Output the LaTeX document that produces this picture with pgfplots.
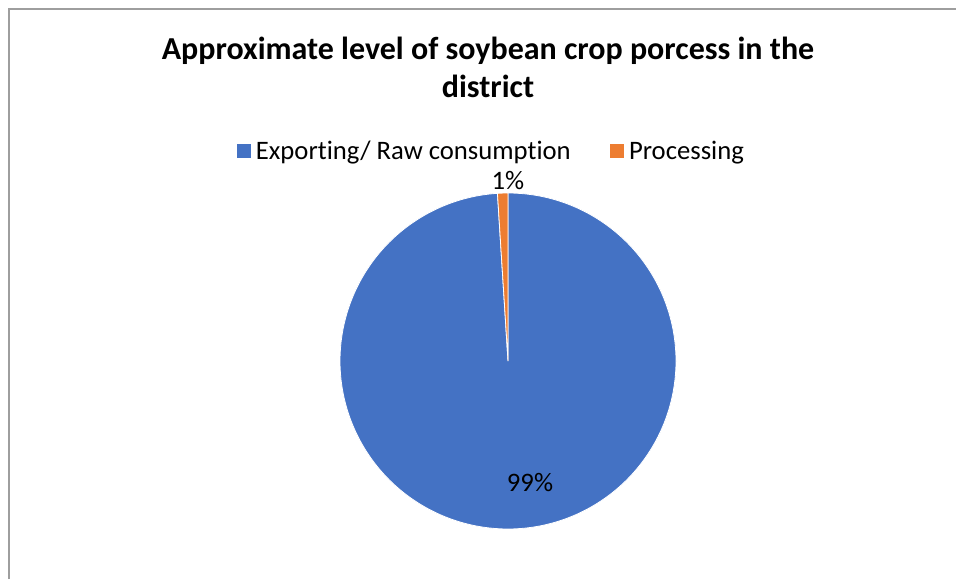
\documentclass[border=0pt]{standalone}
\usepackage{pgfplots}
\pgfplotsset{compat=1.18}
\usepackage{pgfplotstable}
\usepackage{fontspec}
\setmainfont{Carlito}[Ligatures={NoCommon}]
\definecolor{pieblue}{HTML}{4472C4}
\definecolor{pieorange}{HTML}{ED7D31}
\definecolor{framegray}{HTML}{9E9E9E}
\pgfplotstableread{
label value
Exporting 99
Processing 1
}\piedata
\pgfplotstablegetelem{0}{value}\of\piedata \let\va\pgfplotsretval
\pgfplotstablegetelem{1}{value}\of\piedata \let\vb\pgfplotsretval
\pgfmathsetmacro\aFrac{\va/(\va+\vb)}
\pgfmathsetmacro\aStart{90}
\pgfmathsetmacro\aEnd{90-360*\aFrac}
\pgfmathsetmacro\aEndb{\aEnd+360}
\begin{document}%
\begin{tikzpicture}
\fill[white] (0,0) rectangle (717pt,434.25pt);
\draw[framegray, line width=1.5pt] (6.75pt,0pt) -- (6.75pt,427.5pt) -- (717pt,427.5pt);
\node[anchor=base, font=\fontsize{24}{29}\selectfont\bfseries] at (366pt,389.25pt) {Approximate level of soybean crop porcess in the};
\node[anchor=base, font=\fontsize{24}{29}\selectfont\bfseries] at (366pt,360.75pt) {district};
\begin{axis}[
  at={(381pt,163.5pt)}, anchor=center,
  width=252pt, height=252pt, scale only axis,
  xmin=-1, xmax=1, ymin=-1, ymax=1,
  hide axis, clip=false,
  legend columns=2,
  legend style={draw=none, fill=none, at={(0.455,1.125)}, anchor=center,
    font=\fontsize{20}{24}\selectfont,
    /tikz/every even column/.append style={column sep=26pt},
    inner sep=0pt, nodes={inner xsep=3.6pt, inner ysep=0pt}},
  legend image code/.code={\fill[#1,draw=none] (0pt,-5.25pt) rectangle (10.5pt,5.25pt);},
]
\addplot[fill=pieblue, draw=white, line width=0.6pt, domain=\aEnd:\aStart, samples=361]
  ({cos(x)},{sin(x)}) -- (axis cs:0,0) -- cycle;
\addlegendentry{Exporting/ Raw consumption}
\addplot[fill=pieorange, draw=white, line width=0.6pt, domain=\aStart:\aEndb, samples=10]
  ({cos(x)},{sin(x)}) -- (axis cs:0,0) -- cycle;
\addlegendentry{Processing}
\node[font=\fontsize{20}{24}\selectfont] at (axis cs:0,1.077) {1\%};
\node[font=\fontsize{20}{24}\selectfont] at (axis cs:0.131,-0.726) {99\%};
\end{axis}
\pgfresetboundingbox
\path[use as bounding box] (0,0) rectangle (717pt,434.25pt);
\end{tikzpicture}%
\end{document}
